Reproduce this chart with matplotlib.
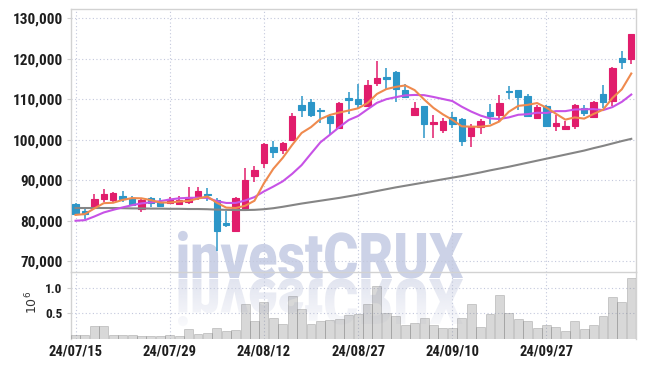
import numpy as np
import matplotlib
matplotlib.use("Agg")
import matplotlib.pyplot as plt
from matplotlib import font_manager as fm
from matplotlib.textpath import TextPath
from matplotlib.patches import PathPatch
from matplotlib.font_manager import FontProperties
from matplotlib.transforms import Affine2D
from matplotlib.colors import to_rgba
from matplotlib.ticker import FixedLocator, FuncFormatter

# ---------------- data ----------------
tick_index = [0, 10, 20, 30, 40, 50]
tick_labels = ['24/07/15', '24/07/29', '24/08/12', '24/08/27', '24/09/10', '24/09/27']

opens = [84100, 82400, 83300, 85300, 85100, 86000, 85600, 82800, 85500, 84700,
         84300, 84200, 84700, 85900, 86500, 85100, 79500, 77500, 82800, 91100,
         94200, 98200, 97500, 100000, 108500, 109300, 107400, 105800, 102900, 110200,
         110000, 108400, 113900, 115400, 116800, 112200, 106100, 108300, 103800, 102400,
         105700, 105100, 100900, 103200, 106900, 106100, 111900, 112200, 110700, 105400,
         108200, 103300, 102600, 103400, 107800, 105700, 111200, 109600, 120100, 119900]
highs = [84300, 83000, 86500, 87800, 87000, 87200, 86000, 85600, 85900, 85500,
         85900, 86000, 88200, 88400, 88000, 85600, 82300, 85800, 92900, 93400,
         99200, 99700, 99500, 106700, 110800, 110000, 107800, 106300, 109300, 111900,
         113700, 114800, 119500, 117600, 116900, 113800, 109200, 108400, 106200, 105300,
         106900, 105400, 103800, 105100, 108800, 111000, 113300, 112300, 111400, 108500,
         108500, 106100, 104500, 108800, 108500, 109500, 113600, 118000, 121800, 126100]
lows = [81400, 80400, 83000, 84500, 84300, 84700, 83500, 82200, 83400, 83400,
        84000, 83900, 84100, 85200, 84800, 72500, 78300, 77300, 82800, 89600,
        93100, 95400, 96400, 99900, 105700, 105500, 104100, 101500, 102700, 106300,
        107700, 108000, 113300, 112600, 109200, 110300, 106100, 100300, 100300, 101700,
        102900, 98500, 98100, 101400, 103800, 104700, 110000, 107400, 105700, 105200,
        103300, 102200, 102400, 102700, 105800, 105500, 107800, 108200, 117400, 118600]
closes = [81600, 81700, 85300, 86600, 86700, 85300, 83900, 85100, 84300, 83700,
          85300, 85000, 85900, 87300, 86200, 77500, 79000, 85500, 90000, 92500,
          98900, 97000, 99100, 105900, 107400, 106100, 107000, 104100, 109000, 109800,
          108900, 113500, 115200, 115000, 112600, 110600, 107800, 103800, 104400, 104700,
          103800, 99700, 103300, 104600, 105900, 109000, 111700, 110600, 105900, 108000,
          103400, 104100, 103400, 108500, 106600, 109200, 109400, 117800, 119300, 126000]

ma5 = [81400, 81600, 83000, 84300, 84400, 85100, 85550, 85500, 85050, 84450,
       84450, 84700, 84850, 85450, 85950, 84400, 83200, 83100, 83650, 84900,
       89200, 92800, 95500, 98700, 101650, 103100, 105100, 106100, 106700, 107200,
       107750, 109050, 111300, 112500, 113050, 113400, 112250, 109950, 107850, 106250,
       104900, 103300, 103200, 103200, 103450, 104500, 106900, 108350, 108600, 109050,
       107900, 106400, 104950, 105500, 105200, 106350, 107400, 110300, 112450, 116350]
ma10 = [79950, 80100, 81000, 82000, 82650, 83250, 83800, 84250, 84500, 84800,
        85200, 85500, 85600, 85650, 85600, 84800, 84350, 84350, 84950, 85800,
        87200, 88400, 89700, 91550, 93700, 96550, 99350, 101200, 103100, 104850,
        105850, 107500, 109100, 110000, 110500, 110950, 111050, 111000, 110550, 110050,
        109550, 108150, 106950, 105950, 105250, 105100, 105500, 106150, 106300, 106650,
        106600, 107050, 107050, 107450, 107500, 107550, 107300, 108050, 109350, 111150]
ma60 = [83100, 83100, 83100, 83100, 83100, 83050, 83000, 83000, 82950, 82950,
        82900, 82900, 82850, 82850, 82800, 82700, 82650, 82600, 82600, 82650,
        82800, 83050, 83400, 83800, 84200, 84550, 84900, 85250, 85600, 86000,
        86400, 86850, 87300, 87750, 88200, 88600, 89000, 89400, 89800, 90200,
        90600, 91000, 91450, 91900, 92400, 92850, 93300, 93800, 94300, 94800,
        95300, 95800, 96300, 96800, 97300, 97900, 98450, 99050, 99650, 100200]
volume = [0.08, 0.08, 0.25, 0.25, 0.07, 0.07, 0.07, 0.05, 0.05, 0.05,
          0.08, 0.05, 0.19, 0.10, 0.12, 0.22, 0.16, 0.18, 0.69, 0.34,
          0.72, 0.40, 0.30, 0.84, 0.58, 0.30, 0.34, 0.36, 0.39, 0.46,
          0.48, 0.69, 1.04, 0.51, 0.44, 0.28, 0.32, 0.41, 0.27, 0.21,
          0.21, 0.41, 0.69, 0.23, 0.49, 0.85, 0.50, 0.39, 0.34, 0.21,
          0.28, 0.23, 0.16, 0.35, 0.19, 0.28, 0.45, 0.81, 0.73, 1.19]

price_ticks = [70000, 80000, 90000, 100000, 110000, 120000, 130000]
vol_ticks = [0.5, 1.0]

# ---------------- style ----------------
UP = '#e11d6c'
DOWN = '#2c96c8'
C_MA5 = '#ef8a4e'
C_MA10 = '#c752e6'
C_MA60 = '#858585'
GRID = '#c3c8dc'
SPINE = '#d2d2d2'
TXT = '#1e1e1e'

avail = {f.name for f in fm.fontManager.ttflist}
tick_family = 'DejaVu Sans'
tick_stretch = 'condensed'
for cand in ['Roboto Condensed', 'Liberation Sans Narrow', 'Open Sans Condensed',
             'DejaVu Sans Condensed']:
    if cand in avail:
        tick_family = cand
        break

wm_family = 'DejaVu Sans'
wm_weight = 'bold'
for cand in ['Roboto', 'Lato', 'Inter']:
    if cand in avail:
        wm_family = cand
        wm_weight = 'black'
        break

W, H = 645, 366
fig = plt.figure(figsize=(W / 100, H / 100), dpi=100)
fig.patch.set_facecolor('white')


def fx(px):
    return px / W


def fy(py):
    return 1 - py / H


L, R = 71, 635.7
T_MAIN, B_MAIN, B_VOL = 9.3, 272, 338.9

# background axes for watermark (pixel coords, y down)
bg = fig.add_axes([0, 0, 1, 1], zorder=-10)
bg.set_xlim(0, W)
bg.set_ylim(H, 0)
bg.axis('off')

wm_prop = FontProperties(family=wm_family, weight=wm_weight)
tp = TextPath((0, 0), 'investCRUX', size=100, prop=wm_prop)
tpX = TextPath((0, 0), 'X', size=100, prop=wm_prop)
capX = tpX.get_extents().y1
ext = tp.get_extents()
x_left, x_right, base_y, cap_px = 178, 463, 278, 45.0
sx = (x_right - x_left) / ext.width
sy = cap_px / capX
tr_main = Affine2D().translate(-ext.x0, 0).scale(sx, -sy).translate(x_left, base_y)
tr_refl = Affine2D().translate(-ext.x0, 0).scale(sx, sy).translate(x_left, base_y + 1)
p_main = PathPatch(tr_main.transform_path(tp), facecolor='#ccd2e7', edgecolor='none',
                   transform=bg.transData, zorder=2)
bg.add_patch(p_main)
p_refl = PathPatch(tr_refl.transform_path(tp), facecolor='none', edgecolor='none',
                   transform=bg.transData, zorder=1)
bg.add_patch(p_refl)
grad = np.zeros((100, 1, 4))
rc = to_rgba('#e0e3ef')
grad[..., 0], grad[..., 1], grad[..., 2] = rc[0], rc[1], rc[2]
grad[:, 0, 3] = np.linspace(0.95, 0.1, 100)
im = bg.imshow(grad, extent=(x_left - 10, x_right + 10, base_y + 1 + cap_px * 1.15, base_y + 1),
               aspect='auto', zorder=1, interpolation='bilinear')
im.set_clip_path(p_refl)
bg.set_xlim(0, W)
bg.set_ylim(H, 0)

ax = fig.add_axes([fx(L), fy(B_MAIN), fx(R) - fx(L), fy(T_MAIN) - fy(B_MAIN)])
axv = fig.add_axes([fx(L), fy(B_VOL), fx(R) - fx(L), fy(B_MAIN) - fy(B_VOL)], sharex=ax)
for a in (ax, axv):
    a.set_facecolor('none')
    for s in a.spines.values():
        s.set_color(SPINE)
        s.set_linewidth(1.0)
    a.grid(True, linestyle=(0, (1, 2.2)), color=GRID, linewidth=0.8)
    a.set_axisbelow(True)

n = len(closes)
x = np.arange(n)
o = np.array(opens, float)
c = np.array(closes, float)
hi = np.array(highs, float)
lo = np.array(lows, float)
up = c >= o
cols = [UP if u else DOWN for u in up]

ax.vlines(x, lo, hi, colors=cols, linewidth=1.1, zorder=3)
body_bottom = np.minimum(o, c)
body_h = np.maximum(np.abs(c - o), 250)
ax.bar(x, body_h, bottom=body_bottom, width=0.68, color=cols, edgecolor=cols,
       linewidth=0.8, zorder=4)

ax.plot(x, ma60, color=C_MA60, linewidth=1.5, zorder=5)
ax.plot(x, ma10, color=C_MA10, linewidth=1.5, zorder=6)
ax.plot(x, ma5, color=C_MA5, linewidth=1.5, zorder=7)

ax.set_xlim(-0.48, 59.47)
ax.set_ylim(67280, 132225)
ax.yaxis.set_major_locator(FixedLocator(price_ticks))
ax.yaxis.set_major_formatter(FuncFormatter(lambda v, p: f'{int(v):,}'))
ax.xaxis.set_major_locator(FixedLocator(tick_index))
ax.tick_params(axis='x', labelbottom=False, length=0)
ax.tick_params(axis='y', length=3, color=SPINE, pad=3, labelsize=11, labelcolor=TXT)
for lab in ax.get_yticklabels():
    lab.set_fontfamily(tick_family)
    lab.set_fontweight('bold')
    lab.set_fontstretch(tick_stretch)

axv.bar(x, volume, width=0.95, color=(0.5, 0.5, 0.5, 0.3),
        edgecolor=(0.45, 0.45, 0.45, 0.35), linewidth=0.6, zorder=3)
axv.set_ylim(0, 1.307)
axv.yaxis.set_major_locator(FixedLocator(vol_ticks))
axv.yaxis.set_major_formatter(FuncFormatter(lambda v, p: f'{v:.1f}'))
axv.xaxis.set_major_locator(FixedLocator(tick_index))
axv.set_xticklabels(tick_labels)
axv.spines['bottom'].set_visible(False)
axv.spines['top'].set_visible(False)
axv.tick_params(axis='x', length=0, pad=4, labelsize=10.5, labelcolor=TXT)
axv.tick_params(axis='y', length=3, color=SPINE, pad=3, labelsize=9.5, labelcolor=TXT)
for lab in axv.get_yticklabels() + axv.get_xticklabels():
    lab.set_fontfamily(tick_family)
    lab.set_fontweight('bold')
    lab.set_fontstretch(tick_stretch)

fig.text(fx(32), fy(302), r'$10^{6}$', rotation=90, ha='center', va='center',
         fontsize=9, color='#333333')

fig.savefig('out.png', dpi=100)
